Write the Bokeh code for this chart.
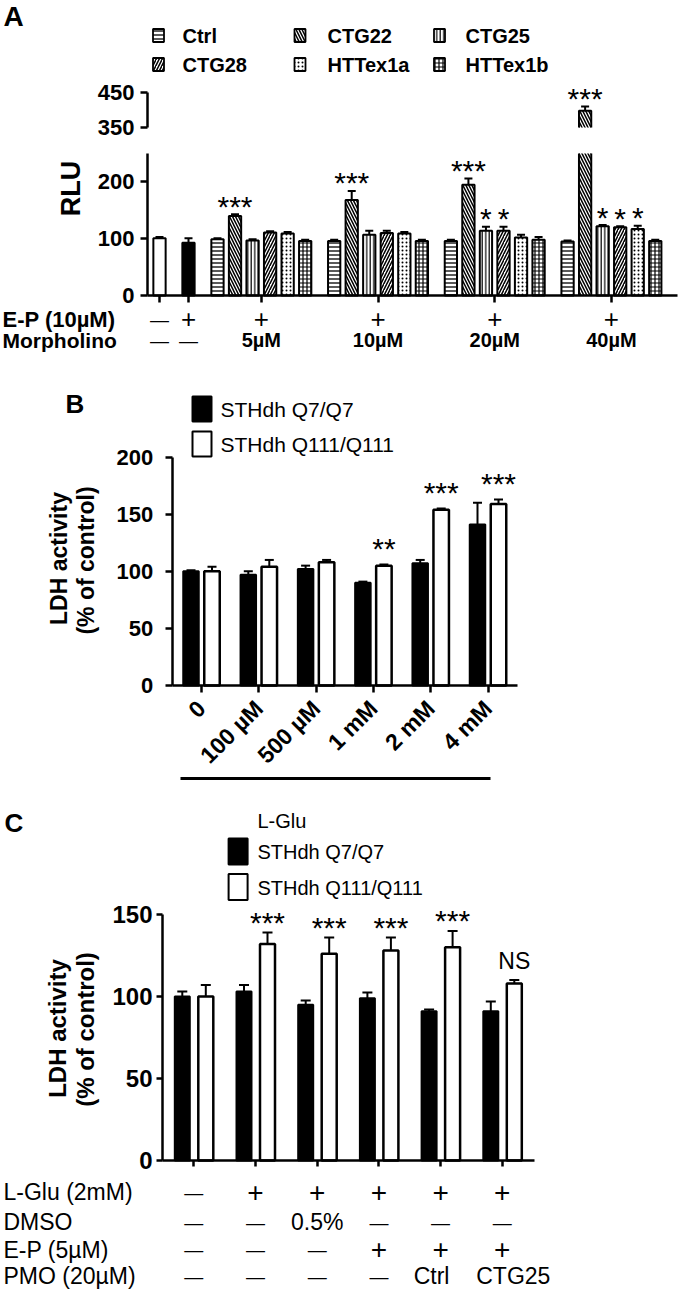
import math
from bokeh.plotting import figure
from bokeh.models import Range1d, FixedTicker
from bokeh.layouts import column
from bokeh.embed import file_html
from bokeh.resources import INLINE
from bokeh.core.properties import value

FONT = "Liberation Sans"

# ---------------- data: panel A ----------------
a_single_names = ["Vehicle", "E-P"]
a_single_vals = [101, 93]
a_single_errs = [2, 8]
a_doses = ["5µM", "10µM", "20µM", "40µM"]
a_series = ["Ctrl", "CTG22", "CTG25", "CTG28", "HTTex1a", "HTTex1b"]
a_ctrl = [99, 96, 96, 95]
a_ctg22 = [140, 168, 195, 398]
a_ctg25 = [97, 107, 114, 122]
a_ctg28 = [111, 110, 114, 120]
a_htt1a = [109, 109, 102, 117]
a_htt1b = [96, 96, 98, 96]
a_ctrl_err = [2, 2, 2, 2]
a_ctg22_err = [3, 16, 11, 12]
a_ctg25_err = [2, 7, 7, 2]
a_ctg28_err = [2, 4, 7, 2]
a_htt1a_err = [3, 3, 5, 6]
a_htt1b_err = [2, 2, 5, 2]
a_star_dose = [0, 1, 2, 2, 2, 3, 3, 3, 3]
a_star_series = ["CTG22", "CTG22", "CTG22", "CTG25", "CTG28", "CTG22", "CTG25", "CTG28", "HTTex1a"]
a_star_text = ["***", "***", "***", "*", "*", "***", "*", "*", "*"]
a_row_labels = ["E-P (10µM)", "Morpholino"]
a_ep_row = ["—", "+", "+", "+", "+", "+"]
a_morph_row = ["—", "—", "5µM", "10µM", "20µM", "40µM"]
A_BRK_LO, A_BRK_HI = 250, 350   # broken y axis: lower part ends, upper part starts

# ---------------- data: panel B ----------------
b_conc = ["0", "100 µM", "500 µM", "1 mM", "2 mM", "4 mM"]
b_q7 = [100, 97, 102, 90, 107, 141]
b_q7_err = [1, 3, 3, 1, 3, 19]
b_q111 = [100, 104, 108, 105, 154, 159]
b_q111_err = [4, 6, 2, 1, 1, 4]
b_marks = ["", "", "", "**", "***", "***"]
b_legend = ["STHdh Q7/Q7", "STHdh Q111/Q111"]

# ---------------- data: panel C ----------------
c_q7 = [100, 103, 95, 99, 91, 91]
c_q7_err = [3, 4, 2.5, 3.5, 1, 6]
c_q111 = [100, 132, 126, 128, 130, 108]
c_q111_err = [7, 7, 10, 8, 10, 2]
c_marks = ["", "***", "***", "***", "***", "NS"]
c_legend_title = "L-Glu"
c_legend = ["STHdh Q7/Q7", "STHdh Q111/Q111"]
c_row_labels = ["L-Glu (2mM)", "DMSO", "E-P (5µM)", "PMO (20µM)"]
c_lglu = ["—", "+", "+", "+", "+", "+"]
c_dmso = ["—", "—", "0.5%", "—", "—", "—"]
c_ep = ["—", "—", "—", "+", "+", "+"]
c_pmo = ["—", "—", "—", "—", "Ctrl", "CTG25"]

# ---------------- styles ----------------
A_HATCH = {"Ctrl": "-", "CTG22": "\\", "CTG25": "|", "CTG28": "/", "HTTex1a": ".", "HTTex1b": "+"}
A_HSCALE = {"Ctrl": 4, "CTG22": 6, "CTG25": 3.5, "CTG28": 6, "HTTex1a": 4, "HTTex1b": 4}
A_HWEIGHT = {"Ctrl": 1.3, "CTG22": 1.5, "CTG25": 1.2, "CTG28": 1.5, "HTTex1a": 3.5, "HTTex1b": 1.2}
C_PMO_NUDGE = {"Ctrl": -9, "CTG25": 11}   # px shift of the wider PMO texts

W = 680


class Map:
    """page pixel -> data coordinates for one panel"""
    def __init__(self, x0_px, ppx, y0_px, y0_val, ppy):
        self.x0, self.ppx, self.y0p, self.y0v, self.ppy = x0_px, ppx, y0_px, y0_val, ppy

    def x(self, px):
        return (px - self.x0) / self.ppx

    def y(self, py):
        return self.y0v + (self.y0p - py) / self.ppy


def mkfig(m, top, height, xaxis=True):
    p = figure(width=W, height=height,
               x_range=Range1d(m.x(0), m.x(W)), y_range=Range1d(m.y(top + height), m.y(top)),
               output_backend="svg", toolbar_location=None,
               x_axis_location="below" if xaxis else None,
               min_border_left=0, min_border_right=0, min_border_top=0, min_border_bottom=0,
               outline_line_color=None, background_fill_color="white",
               border_fill_color="white")
    p.grid.visible = False
    return p


def style_axes(p, size, standoff, tick_out=7):
    for ax in p.axis:
        ax.axis_line_width = 2.5
        ax.axis_line_color = "black"
        ax.major_tick_line_width = 2.5
        ax.major_tick_line_color = "black"
        ax.major_tick_out = tick_out
        ax.major_tick_in = 0
        ax.minor_tick_line_color = None
        ax.major_label_text_font = FONT
        ax.major_label_text_font_style = "bold"
        ax.major_label_text_font_size = size
        ax.major_label_text_color = "black"
        ax.major_label_standoff = standoff


def add_text(p, xs, ys, texts, size, bold=False, align="left", baseline="middle", angle=0.0):
    p.text(x=xs, y=ys, text=texts, text_font=value(FONT), text_font_size=f"{size}px",
           text_font_style="bold" if bold else "normal", text_align=align,
           text_baseline=baseline, text_color="black", angle=angle)


def error_bars(p, xs, tops, errs, capw, lw=2):
    if not xs:
        return
    ends = [t + e for t, e in zip(tops, errs)]
    p.segment(x0=xs, y0=tops, x1=xs, y1=ends, line_color="black", line_width=lw)
    p.segment(x0=[x - capw for x in xs], y0=ends, x1=[x + capw for x in xs], y1=ends,
              line_color="black", line_width=lw)


# ================= Panel A =================
GAP = 0.653
a_single_x = [0.0, 1 + GAP]
a_group_start = [2 * (1 + GAP) + g * (6 + GAP) for g in range(len(a_doses))]
a_group_center = [s + 2.5 for s in a_group_start]
a_ticks = a_single_x + a_group_center
a_vals = [a_ctrl, a_ctg22, a_ctg25, a_ctg28, a_htt1a, a_htt1b]
a_errs = [a_ctrl_err, a_ctg22_err, a_ctg25_err, a_ctg28_err, a_htt1a_err, a_htt1b_err]
A_W = 0.7

mA1 = Map(159, 17.54, 127, 350, 0.35)
mA2 = Map(159, 17.54, 295, 0, 0.568)


def hatch_kw(s):
    return dict(hatch_pattern=A_HATCH[s], hatch_color="black",
                hatch_scale=A_HSCALE[s], hatch_weight=A_HWEIGHT[s])


def a_stars(p, m, keep):
    sx, sy, st = [], [], []
    for g, s, t in zip(a_star_dose, a_star_series, a_star_text):
        si = a_series.index(s)
        v = a_vals[si][g]
        if keep(v):
            sx.append(a_group_start[g] + si)
            sy.append(v + a_errs[si][g] + 8 / m.ppy)
            st.append(t)
    if sx:
        add_text(p, sx, sy, st, 30, align="center")


# ---- upper part of the broken axis
pA1 = mkfig(mA1, 0, 140, xaxis=False)
capA = 4 / mA1.ppx
for si, s in enumerate(a_series):
    xs = [a_group_start[g] + si for g in range(len(a_doses)) if a_vals[si][g] > A_BRK_HI]
    vs = [v for v in a_vals[si] if v > A_BRK_HI]
    es = [e for v, e in zip(a_vals[si], a_errs[si]) if v > A_BRK_HI]
    if not xs:
        continue
    error_bars(pA1, xs, vs, es, capA)
    pA1.vbar(x=xs, bottom=A_BRK_HI, top=vs, width=A_W, fill_color="white",
             line_color=None, **hatch_kw(s))
    pA1.multi_line(xs=[[x - A_W / 2, x - A_W / 2, x + A_W / 2, x + A_W / 2] for x in xs],
                   ys=[[A_BRK_HI, v, v, A_BRK_HI] for v in vs],
                   line_color="black", line_width=2)
a_stars(pA1, mA1, lambda v: v > A_BRK_HI)
style_axes(pA1, "22px", 6)
pA1.yaxis.fixed_location = mA1.x(147)
pA1.yaxis.ticker = FixedTicker(ticks=[A_BRK_HI, 450])
pA1.yaxis.bounds = (A_BRK_HI, 450)
add_text(pA1, [mA1.x(3)], [mA1.y(16)], ["A"], 28, bold=True)
leg_cx = [158, 299.5, 439]
leg_tx = [182, 327, 465]
leg_cy = [35, 64]
for i, s in enumerate(a_series):
    r, c = divmod(i, 3)
    pA1.rect(x=[mA1.x(leg_cx[c])], y=[mA1.y(leg_cy[r])], width=11, height=13,
             width_units="screen", height_units="screen", fill_color="white",
             line_color="black", line_width=1.8, **hatch_kw(s))
    add_text(pA1, [mA1.x(leg_tx[c])], [mA1.y(leg_cy[r])], [s], 20, bold=True)

# ---- lower part
pA2 = mkfig(mA2, 140, 240)
pA2.vbar(x=a_single_x, top=a_single_vals, width=A_W, fill_color=["white", "black"],
         line_color="black", line_width=2)
error_bars(pA2, a_single_x, a_single_vals, a_single_errs, capA)
for si, s in enumerate(a_series):
    xs_all = [a_group_start[g] + si for g in range(len(a_doses))]
    nx = [x for x, v in zip(xs_all, a_vals[si]) if v <= A_BRK_LO]
    nv = [v for v in a_vals[si] if v <= A_BRK_LO]
    ne = [e for v, e in zip(a_vals[si], a_errs[si]) if v <= A_BRK_LO]
    error_bars(pA2, nx, nv, ne, capA)
    pA2.vbar(x=nx, top=nv, width=A_W, fill_color="white", line_color="black",
             line_width=2, **hatch_kw(s))
    bx_ = [x for x, v in zip(xs_all, a_vals[si]) if v > A_BRK_LO]
    if bx_:
        pA2.vbar(x=bx_, top=A_BRK_LO, width=A_W, fill_color="white", line_color=None,
                 **hatch_kw(s))
        pA2.multi_line(xs=[[x + d, x + d] for x in bx_ for d in (-A_W / 2, A_W / 2)],
                       ys=[[0, A_BRK_LO] for x in bx_ for d in (0, 1)],
                       line_color="black", line_width=2)
a_stars(pA2, mA2, lambda v: v <= A_BRK_LO)
style_axes(pA2, "22px", 6)
pA2.yaxis.fixed_location = mA2.x(147)
pA2.yaxis.ticker = FixedTicker(ticks=[0, 100, 200])
pA2.yaxis.bounds = (0, A_BRK_LO)
pA2.xaxis.fixed_location = 0
pA2.xaxis.ticker = FixedTicker(ticks=a_ticks)
pA2.xaxis.major_label_text_color = None
pA2.xaxis.bounds = (mA2.x(147), mA2.x(677))
add_text(pA2, [mA2.x(70)], [mA2.y(188)], ["RLU"], 27, bold=True, align="center", angle=math.pi / 2)
row_y = [318.5, 339.5]
for lab, yy, sz in zip(a_row_labels, row_y, [22, 21]):
    add_text(pA2, [mA2.x(2)], [mA2.y(yy)], [lab], sz, bold=True)
for x, t in zip(a_ticks, a_ep_row):
    add_text(pA2, [x], [mA2.y(row_y[0])], [t], 26 if t == "+" else 19, align="center")
for x, t in zip(a_ticks, a_morph_row):
    add_text(pA2, [x], [mA2.y(row_y[1])], [t], 20 if t != "—" else 19,
             bold=(t != "—"), align="center")

# ================= Panel B =================
mB = Map(201, 57.3, 685, 0, 1.1415)
bx = list(range(len(b_conc)))
pB = mkfig(mB, 380, 410)
b_off = 10.5 / mB.ppx
b_w = 15.5 / mB.ppx
x7 = [i - b_off for i in bx]
x111 = [i + b_off for i in bx]
capB = 4.5 / mB.ppx
error_bars(pB, x7, b_q7, b_q7_err, capB)
error_bars(pB, x111, b_q111, b_q111_err, capB)
pB.vbar(x=x7, top=b_q7, width=b_w, fill_color="black", line_color="black", line_width=2)
pB.vbar(x=x111, top=b_q111, width=b_w, fill_color="white", line_color="black", line_width=2.5)
sx = [x111[i] for i, t in enumerate(b_marks) if t]
sy = [b_q111[i] + b_q111_err[i] + 16 / mB.ppy for i, t in enumerate(b_marks) if t]
add_text(pB, sx, sy, [t for t in b_marks if t], 30, align="center")
pB.rect(x=[mB.x(201.5)] * 2, y=[mB.y(408.5), mB.y(443.5)], width=19, height=25,
        width_units="screen", height_units="screen", fill_color=["black", "white"],
        line_color="black", line_width=2)
add_text(pB, [mB.x(220)] * 2, [mB.y(408.5), mB.y(443.5)], b_legend, 21)
style_axes(pB, "22px", 12)
pB.yaxis.fixed_location = mB.x(171.7)
pB.yaxis.ticker = FixedTicker(ticks=[0, 50, 100, 150, 200])
pB.yaxis.bounds = (0, 200)
pB.xaxis.fixed_location = 0
pB.xaxis.ticker = FixedTicker(ticks=bx)
pB.xaxis.major_label_overrides = {i: lab for i, lab in zip(bx, b_conc)}
pB.xaxis.major_label_orientation = math.pi / 4
pB.xaxis.major_label_text_font_size = "23px"
pB.xaxis.major_label_standoff = 12
pB.xaxis.bounds = (mB.x(171.7), mB.x(517))
# bracket line under the concentrations
pB.segment(x0=[mB.x(180)], y0=[mB.y(778)], x1=[mB.x(490)], y1=[mB.y(778)],
           line_color="black", line_width=3)
add_text(pB, [mB.x(65)], [mB.y(403.5)], ["B"], 26, bold=True)
add_text(pB, [mB.x(58)], [mB.y(558)], ["LDH activity"], 23, bold=True, align="center", angle=math.pi / 2)
add_text(pB, [mB.x(85)], [mB.y(560)], ["(% of control)"], 23, bold=True, align="center", angle=math.pi / 2)

# ================= Panel C =================
mC = Map(193.3, 61.7, 1160, 0, 1.64)
cx = list(range(len(c_q7)))
pC = mkfig(mC, 790, 502)
c_w = 15 / mC.ppx
cx7 = [i - 11.5 / mC.ppx for i in cx]
cx111 = [i + 12 / mC.ppx for i in cx]
capC = 5 / mC.ppx
error_bars(pC, cx7, c_q7, c_q7_err, capC)
error_bars(pC, cx111, c_q111, c_q111_err, capC)
pC.vbar(x=cx7, top=c_q7, width=c_w, fill_color="black", line_color="black", line_width=2)
pC.vbar(x=cx111, top=c_q111, width=c_w, fill_color="white", line_color="black", line_width=2.5)
star_i = [i for i, t in enumerate(c_marks) if t == "***"]
add_text(pC, [cx111[i] for i in star_i],
         [c_q111[i] + c_q111_err[i] + 10 / mC.ppy for i in star_i],
         ["***"] * len(star_i), 30, align="center")
ns_i = [i for i, t in enumerate(c_marks) if t == "NS"]
add_text(pC, [cx111[i] for i in ns_i],
         [c_q111[i] + c_q111_err[i] + 19.6 / mC.ppy for i in ns_i],
         ["NS"] * len(ns_i), 23, align="center")
add_text(pC, [mC.x(257)], [mC.y(820)], [c_legend_title], 20)
pC.rect(x=[mC.x(237.6)] * 2, y=[mC.y(851), mC.y(886.5)], width=19, height=26,
        width_units="screen", height_units="screen", fill_color=["black", "white"],
        line_color="black", line_width=2)
add_text(pC, [mC.x(257)] * 2, [mC.y(851), mC.y(887)], c_legend, 20)
style_axes(pC, "24px", 4, tick_out=6)
pC.yaxis.fixed_location = mC.x(162)
pC.yaxis.ticker = FixedTicker(ticks=[0, 50, 100, 150])
pC.yaxis.bounds = (0, 150)
pC.xaxis.fixed_location = 0
pC.xaxis.ticker = FixedTicker(ticks=cx)
pC.xaxis.major_label_text_color = None
pC.xaxis.bounds = (mC.x(162), mC.x(534))
add_text(pC, [mC.x(4)], [mC.y(822)], ["C"], 26, bold=True)
add_text(pC, [mC.x(57)], [mC.y(1028)], ["LDH activity"], 24, bold=True, align="center", angle=math.pi / 2)
add_text(pC, [mC.x(85)], [mC.y(1029)], ["(% of control)"], 24, bold=True, align="center", angle=math.pi / 2)
c_row_y = [1191.5, 1221.5, 1249, 1275.5]
for lab, yy in zip(c_row_labels, c_row_y):
    add_text(pC, [mC.x(3)], [mC.y(yy)], [lab], 23)
for row, yy in zip([c_lglu, c_dmso, c_ep, c_pmo], c_row_y):
    for x, t in zip(cx, row):
        size = 28 if t == "+" else (19 if t == "—" else 23)
        xx = x + C_PMO_NUDGE.get(t, 0) / mC.ppx
        add_text(pC, [xx], [mC.y(yy)], [t], size, align="center")

layout = column(pA1, pA2, pB, pC, spacing=0)
open("out.html", "w").write(file_html(layout, INLINE))
